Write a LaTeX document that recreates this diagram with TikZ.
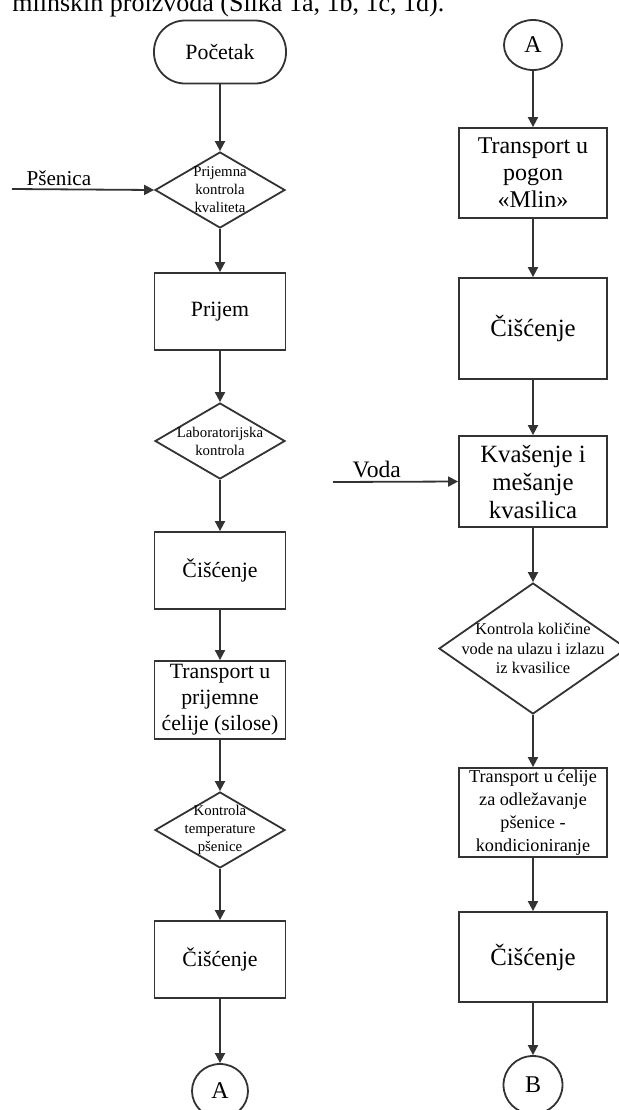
\documentclass[tikz,border=0pt]{standalone}
\usepackage{fontspec}
\setmainfont{Liberation Serif}
\usetikzlibrary{shapes.geometric,arrows.meta}

\begin{document}
\begin{tikzpicture}[x=0.5pt, y=-0.5pt,
    ink/.style={draw=black!80, line width=0.9pt},
    flow/.style={ink, -{Triangle[length=5pt,width=5pt]}},
    startstop/.style={ink, rectangle, rounded corners=15.5pt, minimum width=66pt, minimum height=31.5pt, font=\fontsize{10.9}{13}\selectfont},
    proc/.style={ink, rectangle, align=center, inner sep=1pt, minimum width=65.5pt, minimum height=38.5pt, font=\fontsize{10.9}{13}\selectfont},
    procr/.style={proc, minimum width=74pt, font=\fontsize{12.4}{14}\selectfont},
    check/.style={ink, diamond, inner sep=0pt, minimum width=65pt, minimum height=38pt},
    checktext/.style={align=center, inner sep=0pt, font=\fontsize{7.4}{9}\selectfont},
    pageref/.style={ink, ellipse, inner sep=0pt, minimum width=28pt, minimum height=27pt, font=\fontsize{12}{14}\selectfont},
    inlabel/.style={above, inner sep=1.5pt}
]
    % Page and clipping
    \useasboundingbox (0,0) rectangle (619,1110);
    \clip (0,0) rectangle (619,1110);

    % Cut-off text line above the chart
    \node[anchor=base west, inner sep=0pt, font=\fontsize{13}{15}\selectfont] (caption) at (12,11) {mlinskih proizvoda (Slika 1a, 1b, 1c, 1d).};

    % Left column
    \node[startstop] (start) at (220,52) {Početak};
    \node[check, label={[checktext]center:{Prijemna\\kontrola\\kvaliteta}}] (quality) at (220,190) {};
    \node[proc] (intake) at (220,311.5) {Prijem};
    \node[check, label={[checktext]center:{Laboratorijska\\kontrola}}] (lab) at (220,441) {};
    \node[proc] (cleanA) at (220,570.5) {Čišćenje};
    \node[proc, minimum height=39pt] (silo) at (220,700) {Transport u\\prijemne\\ćelije (silose)};
    \node[check, label={[checktext]center:{Kontrola\\temperature\\pšenice}}] (temp) at (220,830) {};
    \node[proc] (cleanB) at (220,959.5) {Čišćenje};
    \node[pageref] (outA) at (220,1091) {A};

    % Right column
    \node[pageref, minimum width=29pt, minimum height=25pt] (inA) at (533,45) {A};
    \node[procr, minimum height=45pt, font=\fontsize{12}{13.5}\selectfont] (mill) at (533,173) {Transport u\\pogon\\«Mlin»};
    \node[procr, minimum height=50.5pt] (cleanC) at (533,328.5) {Čišćenje};
    \node[procr, minimum height=45.5pt] (soak) at (533,481.5) {Kvašenje i\\mešanje\\kvasilica};
    \node[check, minimum width=94pt, minimum height=65.5pt,
          label={[checktext, font=\fontsize{8.2}{9.8}\selectfont]center:{Kontrola količine\\vode na ulazu i izlazu\\iz kvasilice}}] (water) at (533,648.5) {};
    \node[procr, minimum height=44.5pt, inner sep=0.5pt, font=\fontsize{9.1}{11.5}\selectfont] (temper) at (533,812.5) {Transport u ćelije\\za odležavanje\\pšenice -\\kondicioniranje};
    \node[procr, minimum height=45pt] (cleanD) at (533,957) {Čišćenje};
    \node[pageref, minimum width=29.5pt, minimum height=29pt] (outB) at (533,1085) {B};

    % Flow arrows
    \foreach \a/\b in {start/quality, quality/intake, intake/lab, lab/cleanA, cleanA/silo, silo/temp, temp/cleanB, cleanB/outA,
                       inA/mill, mill/cleanC, cleanC/soak, soak/water, water/temper, temper/cleanD, cleanD/outB}
        \draw[flow] (\a) -- (\b);

    % Inputs
    \coordinate (wheat) at (12,189);
    \coordinate (waterin) at (333,482);
    \draw[flow] (wheat) -- node[inlabel, pos=0.33, font=\fontsize{10.6}{12}\selectfont] (wheatlabel) {Pšenica} (quality.west);
    \draw[flow] (waterin) -- node[inlabel, pos=0.35, font=\fontsize{11.8}{13}\selectfont] (waterlabel) {Voda} (soak.west);
\end{tikzpicture}
\end{document}
